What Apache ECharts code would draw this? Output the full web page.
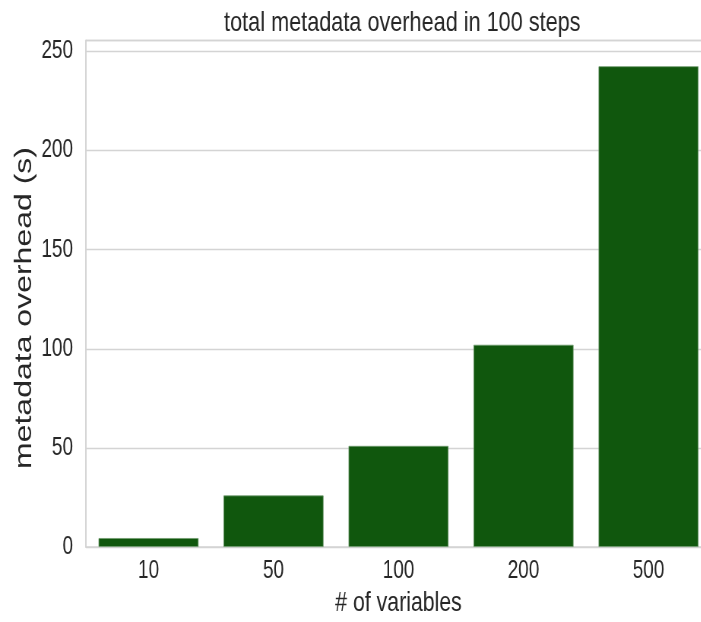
<!DOCTYPE html>
<html>
<head>
<meta charset="utf-8">
<script src="https://cdn.jsdelivr.net/npm/echarts@6/dist/echarts.min.js"></script>
<style>
html,body{margin:0;padding:0;background:#fff;overflow:hidden;}
#wrap{width:701px;height:622px;overflow:hidden;position:relative;}
#c{width:980px;height:622px;transform:scaleX(0.76);transform-origin:0 0;position:absolute;left:0;top:0;}
</style>
</head>
<body>
<div id="wrap"><div id="c"></div></div>
<script>
const categories = ['10', '50', '100', '200', '500'];
const overhead = [4.5, 26, 51, 102, 242.5];
const yTicks = [0, 50, 100, 150, 200, 250];

const font = "'Liberation Sans', Arial, Helvetica, sans-serif";
const txt = '#262626';
const S = 0.76;            // horizontal squash of the whole figure
const L = 86 / S;          // left spine position (unsquashed)
const catW = 125 / S;      // category width (unsquashed)
const plotW = catW * categories.length;
const TOP = 40.5;

const chart = echarts.init(document.getElementById('c'), null, {renderer: 'canvas'});
chart.setOption({
  backgroundColor: '#fff',
  animation: false,
  title: {
    text: 'total metadata overhead in 100 steps',
    left: L + plotW / 2, top: 4, textAlign: 'center',
    textStyle: {fontFamily: font, fontSize: 28.5, fontWeight: 'normal', color: txt}
  },
  grid: {left: L, top: TOP, bottom: 70.5, width: plotW},
  xAxis: {
    type: 'category', data: categories,
    name: '# of variables', nameLocation: 'middle', nameGap: 42,
    nameTextStyle: {fontFamily: font, fontSize: 28, color: txt},
    axisLine: {show: true, lineStyle: {color: '#d4d4d4', width: 1.5}},
    axisTick: {show: false},
    axisLabel: {fontFamily: font, fontSize: 25, color: txt, margin: 12}
  },
  yAxis: {
    type: 'value', min: 0, max: 255.5, interval: 50,
    axisLine: {show: true, lineStyle: {color: '#d4d4d4', width: 2}},
    axisTick: {show: false},
    splitLine: {show: true, lineStyle: {color: '#d4d4d4', width: 1.3}},
    axisLabel: {
      fontFamily: font, fontSize: 25, color: txt, margin: 17,
      formatter: v => yTicks.includes(v) ? String(v) : ''
    }
  },
  series: [{
    type: 'bar', data: overhead, barCategoryGap: '20%',
    itemStyle: {color: '#10570d', borderColor: '#6f9a6d', borderWidth: 0.8}
  }],
  graphic: [
    {
      type: 'line', z: 10,
      shape: {x1: L, y1: TOP, x2: L + plotW, y2: TOP},
      style: {stroke: '#d4d4d4', lineWidth: 1.5}
    },
    {
      type: 'text', z: 10,
      x: 32, y: 308, rotation: Math.PI / 2,
      style: {
        text: 'metadata overhead (s)', fontFamily: font, fontSize: 32, fill: txt,
        textAlign: 'center', textVerticalAlign: 'middle'
      }
    }
  ]
});
</script>
</body>
</html>
